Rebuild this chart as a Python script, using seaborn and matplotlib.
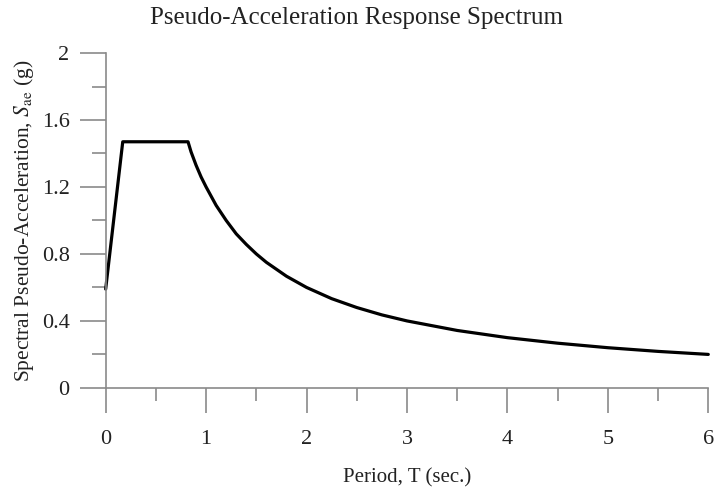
import matplotlib
matplotlib.use("Agg")
from matplotlib import pyplot as plt
from matplotlib.ticker import MultipleLocator
import seaborn as sns

# Values (period in s, Sa in g)
period = [0.0, 0.17, 0.82, 0.85, 0.9, 0.95, 1.0, 1.1, 1.2, 1.3, 1.4, 1.5, 1.6, 1.8,
          2.0, 2.25, 2.5, 2.75, 3.0, 3.5, 4.0, 4.5, 5.0, 5.5, 6.0]
sa = [0.59, 1.47, 1.47, 1.41, 1.33, 1.26, 1.20, 1.09, 1.00, 0.92, 0.857, 0.80, 0.75, 0.667,
      0.60, 0.533, 0.48, 0.436, 0.40, 0.343, 0.30, 0.267, 0.24, 0.218, 0.20]

x_ticks = [0, 1, 2, 3, 4, 5, 6]
y_ticks = [0, 0.4, 0.8, 1.2, 1.6, 2.0]
y_tick_labels = ["0", "0.4", "0.8", "1.2", "1.6", "2"]

sns.set_style("ticks")
plt.rcParams["font.family"] = ["Liberation Serif", "DejaVu Serif"]
plt.rcParams["mathtext.fontset"] = "stix"

fig = plt.figure(figsize=(7.14, 4.91), dpi=100)
ax = fig.add_axes([0.148, 0.21, 0.844, 0.682])

sns.lineplot(x=period, y=sa, ax=ax, color="black", linewidth=2.3, clip_on=False)

ax.set_xlim(0, 6)
ax.set_ylim(0, 2)
ax.set_xticks(x_ticks)
ax.set_yticks(y_ticks)
ax.set_yticklabels(y_tick_labels)
ax.xaxis.set_minor_locator(MultipleLocator(0.5))
ax.yaxis.set_minor_locator(MultipleLocator(0.2))

grey = "#8a8a8a"
for side in ["top", "right"]:
    ax.spines[side].set_visible(False)
for side in ["left", "bottom"]:
    ax.spines[side].set_color(grey)
    ax.spines[side].set_linewidth(1.2)

ax.tick_params(axis="x", which="major", length=18, width=1.2, color=grey, pad=12, labelsize=16, labelcolor="#222222")
ax.tick_params(axis="x", which="minor", length=9, width=1.2, color=grey)
ax.tick_params(axis="y", which="major", length=19, width=1.2, color=grey, pad=7, labelsize=16, labelcolor="#222222")
ax.tick_params(axis="y", which="minor", length=10, width=1.2, color=grey)

ax.set_xlabel("Period, T (sec.)", fontsize=15, color="#222222", labelpad=14)
ax.set_ylabel(r"Spectral Pseudo-Acceleration, $S_{\mathrm{ae}}$ (g)", fontsize=15.5, color="#222222", labelpad=4)
fig.suptitle("Pseudo-Acceleration Response Spectrum", fontsize=18, color="#222222", x=0.5, y=0.985, va="top")

fig.savefig("out.png", dpi=100)
